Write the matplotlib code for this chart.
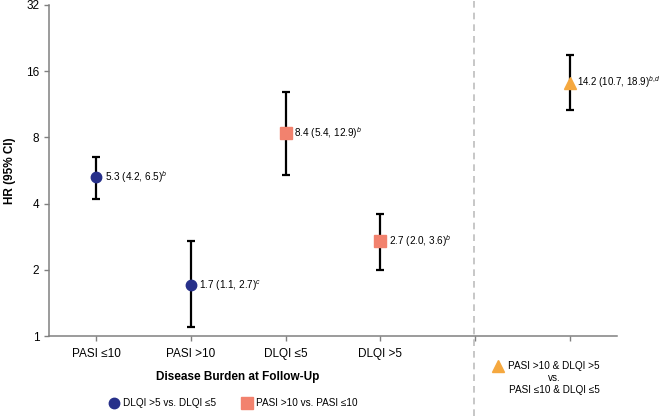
import numpy as np
import matplotlib.pyplot as plt
from matplotlib.lines import Line2D

plt.rcParams['font.family'] = ['Liberation Sans', 'DejaVu Sans']
plt.rcParams['mathtext.fontset'] = 'custom'
plt.rcParams['mathtext.rm'] = 'Liberation Sans'
plt.rcParams['mathtext.it'] = 'Liberation Sans:italic'

# data
cats    = ['PASI \u226410', 'PASI >10', 'DLQI \u22645', 'DLQI >5']
hr      = [5.3, 1.7, 8.4, 2.7]
lo      = [4.2, 1.1, 5.4, 2.0]
hi      = [6.5, 2.7, 12.9, 3.6]
sup     = ['b', 'c', 'b', 'b']
grp     = [0, 0, 1, 1]
tri_hr  = 14.2
tri_lo  = 10.7
tri_hi  = 18.9
tri_sup = r'b,\!d'

labels  = ['DLQI >5 vs. DLQI \u22645', 'PASI >10 vs. PASI \u226410',
           'PASI >10 & DLQI >5\nvs.\nPASI \u226410 & DLQI \u22645']
colors  = ['#27308a', '#f2826e', '#f5a83f']
markers = ['o', 's', '^']
msize   = [7.5, 8, 8.5]

fig = plt.figure(figsize=(6.6, 4.16), dpi=100)
ax = fig.add_axes([0.0742, 0.1923, 0.8608, 0.7957])

def point(x, y, l, h, s, c, m, ms, fs=7.2, off=6):
    ax.errorbar(x, y, yerr=[[y - l], [h - y]], fmt='none', ecolor='k',
                elinewidth=1.6, capsize=3, capthick=1.6, zorder=2)
    ax.plot(x, y, marker=m, color=c, ms=ms, ls='none', zorder=3)
    ax.annotate('%.1f (%.1f, %.1f)$^{%s}$' % (y, l, h, s), (x, y),
                xytext=(off, 0), textcoords='offset points', va='center',
                fontsize=fs)

for i in range(len(cats)):
    g = grp[i]
    point(i + 1, hr[i], lo[i], hi[i], sup[i], colors[g], markers[g], msize[g])
point(6, tri_hr, tri_lo, tri_hi, tri_sup, colors[2], markers[2], msize[2],
      fs=7.0, off=5)

ax.set_yscale('log', base=2)
ax.set_ylim(1, 32)
ax.set_yticks([1, 2, 4, 8, 16, 32])
ax.set_yticklabels(['1', '2', '4', '8', '16', '32'])
ax.minorticks_off()
ax.set_xlim(0.5, 6.5)
ax.set_xticks([1, 2, 3, 4, 5, 6])
ax.set_xticklabels(cats + ['', ''])
ax.tick_params(axis='both', labelsize=8.5, color='#808080', length=3.5, width=1)
ax.tick_params(axis='x', pad=5)
for sp in ['top', 'right']:
    ax.spines[sp].set_visible(False)
for sp in ['left', 'bottom']:
    ax.spines[sp].set_color('#808080')
    ax.spines[sp].set_linewidth(1.1)

ax.set_ylabel('HR (95% CI)', fontsize=8.5, fontweight='bold', labelpad=7)
fig.text(238 / 660, 1 - 377 / 416, 'Disease Burden at Follow-Up',
         ha='center', va='center', fontsize=8.5, fontweight='bold')

# separator
fig.add_artist(Line2D([474 / 660, 474 / 660], [0, 1], color='#bdbdbd',
                      lw=1.2, ls=(0, (4, 3))))

# legend entries
leg_xy = [(114, 403), (247, 403), (498, 366)]
for k in range(3):
    mx, my = leg_xy[k]
    fig.add_artist(Line2D([mx / 660], [1 - my / 416], marker=markers[k],
                          color=colors[k], ls='none', ms=msize[k],
                          transform=fig.transFigure))
for k in range(2):
    mx, my = leg_xy[k]
    fig.text((mx + 9) / 660, 1 - my / 416, labels[k], ha='left', va='center',
             fontsize=7.2)
fig.text(554 / 660, 1 - 378 / 416, labels[2], ha='center', va='center',
         fontsize=7.2, multialignment='center', linespacing=1.25)

fig.savefig('out.png', dpi=100)
